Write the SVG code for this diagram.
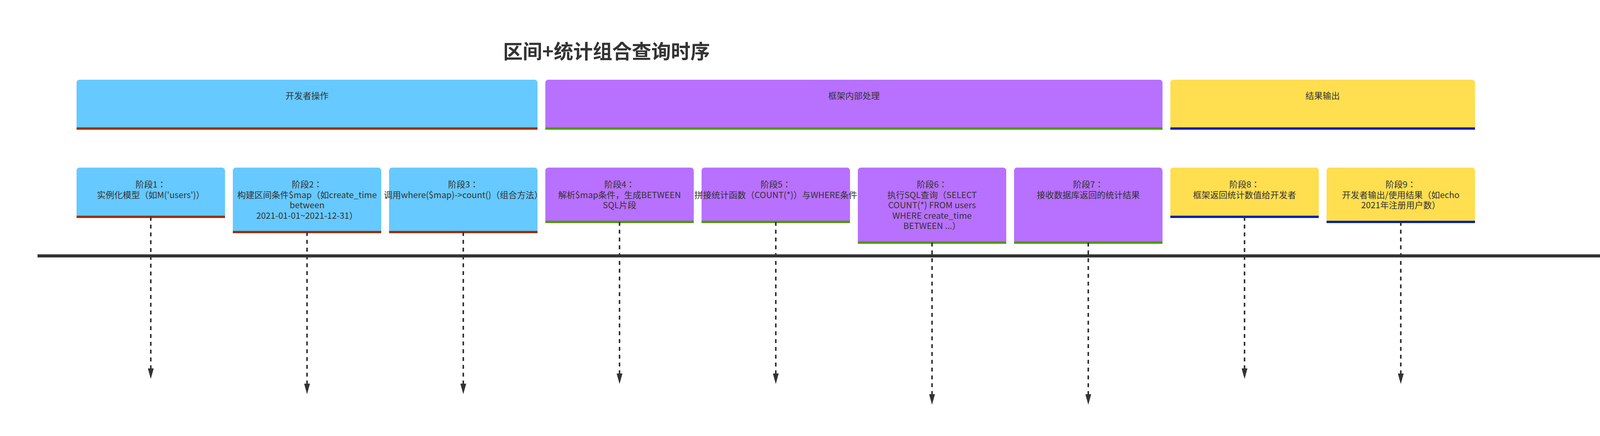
<svg xmlns="http://www.w3.org/2000/svg" width="4372" height="1116" viewBox="0 0 4372 1116">
<style>
text{font-family:"Noto Sans CJK JP","Noto Sans CJK SC","Noto Sans",sans-serif;fill:#333;}
.t{font-size:22px;text-anchor:middle;}
.title{font-size:50px;font-weight:bold;}
.dev{fill:#66C9FF;}
.devb{fill:#993300;}
.fw{fill:#B870FF;}
.fwb{fill:#4E9A00;}
.out{fill:#FFDE50;}
.outb{fill:#0022AA;}
.dash{stroke:#333;stroke-width:4;stroke-dasharray:10 10;fill:none;}
.tl{stroke:#333;stroke-width:8;fill:none;}
</style>
<defs>
<marker id="ah" viewBox="0 0 27 15" refX="15" refY="7.5" markerWidth="27" markerHeight="15" markerUnits="userSpaceOnUse" orient="auto">
<path d="M0,0 L27,7.5 L0,15 Z" fill="#333"/>
</marker>
</defs>
<rect width="4372" height="1116" fill="#fff"/>
<text class="title" x="1288" y="150">区间+统计组合查询时序</text>

<g id="lane-dev">
<path class="dev" d="M196,212 a8,8 0 0 1 8,-8 H1368 a8,8 0 0 1 8,8 V326 H196 Z"/>
<rect class="devb" x="196" y="326" width="1180" height="6"/>
<text class="t" x="786" y="253">开发者操作</text>
</g>
<g id="lane-fw">
<path class="fw" d="M1396,212 a8,8 0 0 1 8,-8 H2968 a8,8 0 0 1 8,8 V326 H1396 Z"/>
<rect class="fwb" x="1396" y="326" width="1580" height="6"/>
<text class="t" x="2186" y="253">框架内部处理</text>
</g>
<g id="lane-out">
<path class="out" d="M2996,212 a8,8 0 0 1 8,-8 H3768 a8,8 0 0 1 8,8 V326 H2996 Z"/>
<rect class="outb" x="2996" y="326" width="780" height="6"/>
<text class="t" x="3386" y="253">结果输出</text>
</g>

<g id="stage1">
<path class="dev" d="M196,437 a8,8 0 0 1 8,-8 H568 a8,8 0 0 1 8,8 V552 H196 Z"/>
<rect class="devb" x="196" y="552" width="380" height="6"/>
<text class="t" x="386" y="480">阶段1：</text>
<text class="t" x="386" y="506.5">实例化模型（如M('users')）</text>
</g>
<g id="stage2">
<path class="dev" d="M596,437 a8,8 0 0 1 8,-8 H968 a8,8 0 0 1 8,8 V591 H596 Z"/>
<rect class="devb" x="596" y="591" width="380" height="6"/>
<text class="t" x="786" y="480">阶段2：</text>
<text class="t" x="786" y="506.5">构建区间条件$map（如create_time</text>
<text class="t" x="786" y="533">between</text>
<text class="t" x="786" y="559.5">2021-01-01~2021-12-31）</text>
</g>
<g id="stage3">
<path class="dev" d="M996,437 a8,8 0 0 1 8,-8 H1368 a8,8 0 0 1 8,8 V591 H996 Z"/>
<rect class="devb" x="996" y="591" width="380" height="6"/>
<text class="t" x="1186" y="480">阶段3：</text>
<text class="t" x="1186" y="506.5">调用where($map)-&gt;count()（组合方法）</text>
</g>
<g id="stage4">
<path class="fw" d="M1396,437 a8,8 0 0 1 8,-8 H1768 a8,8 0 0 1 8,8 V565 H1396 Z"/>
<rect class="fwb" x="1396" y="565" width="380" height="6"/>
<text class="t" x="1586" y="480">阶段4：</text>
<text class="t" x="1586" y="506.5">解析$map条件，生成BETWEEN</text>
<text class="t" x="1586" y="533">SQL片段</text>
</g>
<g id="stage5">
<path class="fw" d="M1796,437 a8,8 0 0 1 8,-8 H2168 a8,8 0 0 1 8,8 V565 H1796 Z"/>
<rect class="fwb" x="1796" y="565" width="380" height="6"/>
<text class="t" x="1986" y="480">阶段5：</text>
<text class="t" x="1986" y="506.5">拼接统计函数（COUNT(*)）与WHERE条件</text>
</g>
<g id="stage6">
<path class="fw" d="M2196,437 a8,8 0 0 1 8,-8 H2568 a8,8 0 0 1 8,8 V618 H2196 Z"/>
<rect class="fwb" x="2196" y="618" width="380" height="6"/>
<text class="t" x="2386" y="480">阶段6：</text>
<text class="t" x="2386" y="506.5">执行SQL查询（SELECT</text>
<text class="t" x="2386" y="533">COUNT(*) FROM users</text>
<text class="t" x="2386" y="559.5">WHERE create_time</text>
<text class="t" x="2386" y="586">BETWEEN ...）</text>
</g>
<g id="stage7">
<path class="fw" d="M2596,437 a8,8 0 0 1 8,-8 H2968 a8,8 0 0 1 8,8 V618 H2596 Z"/>
<rect class="fwb" x="2596" y="618" width="380" height="6"/>
<text class="t" x="2786" y="480">阶段7：</text>
<text class="t" x="2786" y="506.5">接收数据库返回的统计结果</text>
</g>
<g id="stage8">
<path class="out" d="M2996,437 a8,8 0 0 1 8,-8 H3368 a8,8 0 0 1 8,8 V552 H2996 Z"/>
<rect class="outb" x="2996" y="552" width="380" height="6"/>
<text class="t" x="3186" y="480">阶段8：</text>
<text class="t" x="3186" y="506.5">框架返回统计数值给开发者</text>
</g>
<g id="stage9">
<path class="out" d="M3396,437 a8,8 0 0 1 8,-8 H3768 a8,8 0 0 1 8,8 V565 H3396 Z"/>
<rect class="outb" x="3396" y="565" width="380" height="6"/>
<text class="t" x="3586" y="480">阶段9：</text>
<text class="t" x="3586" y="506.5">开发者输出/使用结果（如echo</text>
<text class="t" x="3586" y="533">2021年注册用户数）</text>
</g>

<g id="connectors">
<line class="tl" x1="96" y1="655" x2="4270" y2="655"/>
<path d="M4236,639 L4283,655 L4236,671 Z" fill="#333"/>
<line class="dash" x1="386" y1="555" x2="386" y2="958" marker-end="url(#ah)"/>
<line class="dash" x1="786" y1="594" x2="786" y2="997" marker-end="url(#ah)"/>
<line class="dash" x1="1186" y1="594" x2="1186" y2="997" marker-end="url(#ah)"/>
<line class="dash" x1="1586" y1="568" x2="1586" y2="971" marker-end="url(#ah)"/>
<line class="dash" x1="1986" y1="568" x2="1986" y2="971" marker-end="url(#ah)"/>
<line class="dash" x1="2386" y1="621" x2="2386" y2="1024" marker-end="url(#ah)"/>
<line class="dash" x1="2786" y1="621" x2="2786" y2="1024" marker-end="url(#ah)"/>
<line class="dash" x1="3186" y1="555" x2="3186" y2="958" marker-end="url(#ah)"/>
<line class="dash" x1="3586" y1="568" x2="3586" y2="971" marker-end="url(#ah)"/>
</g>
</svg>
